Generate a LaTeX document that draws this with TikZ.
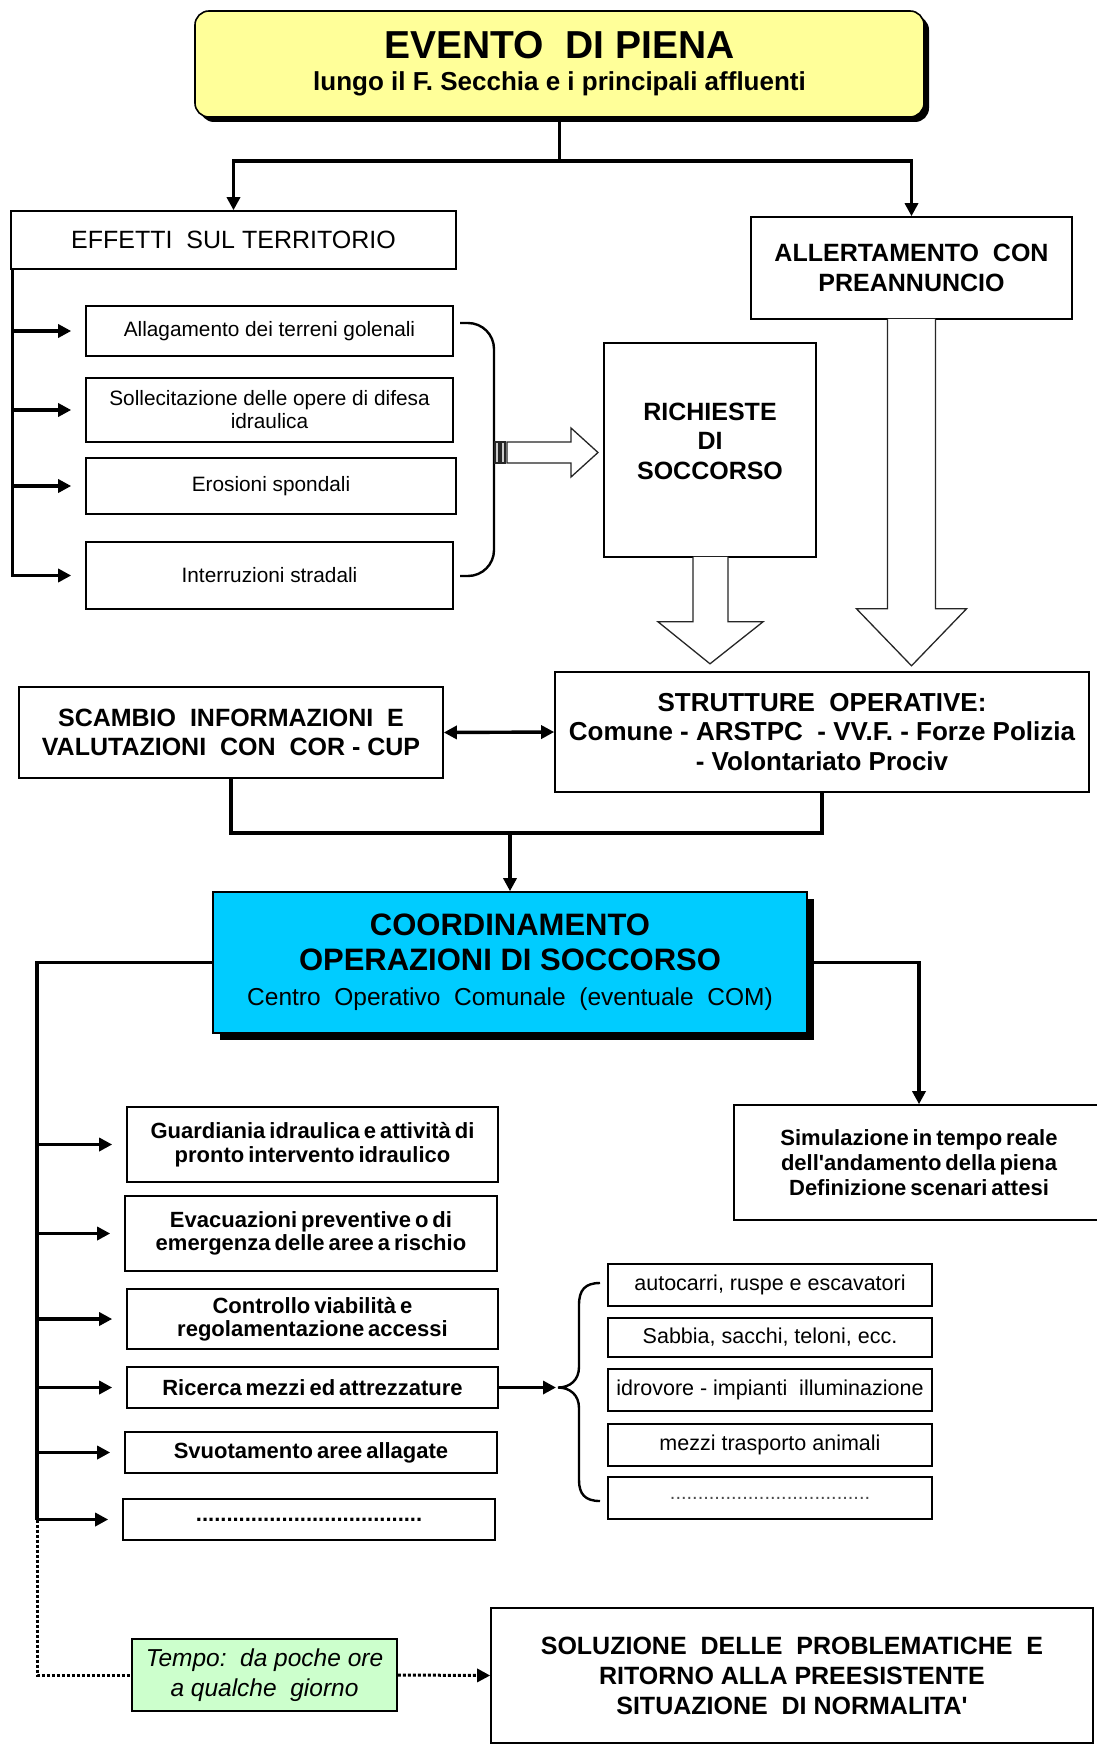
\documentclass[tikz,border=0pt]{standalone}
\usepackage{fontspec}
\setmainfont{Liberation Sans}
\usetikzlibrary{arrows.meta,shadows}
\definecolor{giallo}{HTML}{FFFF99}
\definecolor{azzurro}{HTML}{00CCFF}
\definecolor{verdino}{HTML}{CCFFCC}
\newcommand\stretto{\spaceskip=0.18em plus 0.05em\relax}
\begin{document}
\begin{tikzpicture}[x=1pt,y=-1pt,
    box/.style={draw, line width=1.6pt, fill=white, align=center, inner sep=0pt},
    conn/.style={line width=3.4pt},
    arr/.style={conn, -{Triangle[length=13pt,width=13pt]}},
    punti/.style={line width=3pt, dash pattern=on 3pt off 2pt},
    vuota/.style={draw=black!85, line width=1.3pt, fill=white, line join=miter},
    titolo/.style={font=\bfseries\fontsize{25}{29.5}\selectfont},
    voce/.style={font=\fontsize{20.8}{23}\selectfont},
    vocebf/.style={font=\bfseries\fontsize{22}{23.5}\selectfont\stretto},
    risorsa/.style={box, font=\fontsize{21.5}{23}\selectfont, minimum width=324, minimum height=42}]
    \fill[white] (0,0) rectangle (1096,1744);
    \useasboundingbox (0,0) rectangle (1096,1744);

    \node[box, rounded corners=14pt, fill=giallo, minimum width=729, minimum height=106,
        font=\bfseries\fontsize{26}{32}\selectfont,
        drop shadow={shadow xshift=5pt, shadow yshift=-5pt, fill=black, opacity=1}] (evento) at (559.5,64)
        {{\fontsize{39}{32}\selectfont EVENTO\ \ DI PIENA}\\lungo il F. Secchia e i principali affluenti};

    \node[box, minimum width=445, minimum height=58, font=\fontsize{25}{29}\selectfont] (effetti) at (233.5,240) {EFFETTI\ \ SUL TERRITORIO};
    \node[box, titolo, minimum width=321, minimum height=102] (allerta) at (911.5,268) {ALLERTAMENTO\ \ CON\\PREANNUNCIO};
    \coordinate (split) at (559.5,161);
    \draw[conn] (evento.south) -- (split);
    \draw[arr] (split) -| (effetti.north);
    \draw[arr] (split) -| (allerta.north);

    \node[box, voce, minimum width=367, minimum height=50] (alla) at (269.5,331) {Allagamento dei terreni golenali};
    \node[box, voce, minimum width=367, minimum height=64] (solle) at (269.5,410) {Sollecitazione delle opere di difesa\\idraulica};
    \node[box, voce, minimum width=370, minimum height=56] (eros) at (271,486) {Erosioni spondali};
    \node[box, voce, minimum width=367, minimum height=67] (interr) at (269.5,575.5) {Interruzioni stradali};
    \coordinate (effline) at ([xshift=2pt]effetti.south west);
    \draw[arr, shorten >=14pt] (effline) |- (interr.west);
    \foreach \n in {alla,solle,eros}
        \draw[arr, shorten >=14pt] (effline |- \n.west) -- (\n.west);
    \draw[line width=2.4pt, rounded corners=26pt] (460,323) -- (494,323) -- (494,576) -- (460,576);

    \node[box, minimum width=212, minimum height=214,
        label={[titolo, align=center, yshift=9pt]center:RICHIESTE\\DI\\SOCCORSO}] (richieste) at (710,450) {};
    \draw[vuota] (507,442) -- (571,442) -- (571,428) -- (598,452.5) -- (571,477) -- (571,463) -- (507,463) -- cycle;
    \draw[vuota, fill=black!20] (495,442) rectangle (499,463);
    \draw[vuota, fill=black!20] (501,442) rectangle (505,463);
    \draw[vuota] ([xshift=-17pt,yshift=1pt]richieste.south) -- ++(0,65) -- ++(-35,0) -- ++(52,42) -- ++(53,-42) -- ++(-35,0) -- ++(0,-65);
    \draw[vuota] ([xshift=-24pt,yshift=1pt]allerta.south) -- ++(0,290) -- ++(-31,0) -- ++(55,57) -- ++(55,-57) -- ++(-31,0) -- ++(0,-290);

    \node[box, font=\bfseries\fontsize{26}{29.5}\selectfont, minimum width=534, minimum height=120] (strutture) at (822,732)
        {STRUTTURE\ \ OPERATIVE:\\Comune - ARSTPC\ \ - VV.F. - Forze Polizia\\- Volontariato Prociv};
    \node[box, titolo, minimum width=424, minimum height=91] (scambio) at (231,732.5)
        {SCAMBIO\ \ INFORMAZIONI\ \ E\\VALUTAZIONI\ \ CON\ \ COR - CUP};
    \draw[conn, {Triangle[length=13pt,width=13pt]}-{Triangle[length=13pt,width=13pt]}] (scambio.east) -- (strutture.west);

    \node[box, fill=azzurro, minimum width=594, minimum height=141,
        font=\bfseries\fontsize{31}{35}\selectfont,
        drop shadow={shadow xshift=7pt, shadow yshift=-7pt, fill=black, opacity=1}] (coord) at (510,962.5)
        {COORDINAMENTO\\OPERAZIONI DI SOCCORSO\\{\mdseries\fontsize{24.5}{35}\selectfont Centro\ \ Operativo\ \ Comunale\ \ (eventuale\ \ COM)}};
    \coordinate (nodo) at (510,833);
    \draw[conn] (scambio.south) |- (nodo) -| (strutture.south);
    \draw[arr] (nodo) -- (coord.north);

    \node[box, font=\bfseries\fontsize{22}{25}\selectfont\stretto, minimum width=370, minimum height=115] (simula) at (919,1162.5)
        {Simulazione in tempo reale\\dell\textquotesingle andamento della piena\\Definizione scenari attesi};
    \draw[arr] (coord.east) -| (simula.north);

    \node[box, vocebf, minimum width=371, minimum height=75] (g1) at (312.5,1144.5) {Guardiania idraulica e attività di\\pronto intervento idraulico};
    \node[box, vocebf, minimum width=372, minimum height=75] (g2) at (311,1233.5) {Evacuazioni preventive o di\\emergenza delle aree a rischio};
    \node[box, vocebf, minimum width=371, minimum height=60] (g3) at (312.5,1319) {Controllo viabilità e\\regolamentazione accessi};
    \node[box, vocebf, minimum width=371, minimum height=41] (g4) at (312.5,1387.5) {Ricerca mezzi ed attrezzature};
    \node[box, vocebf, minimum width=372, minimum height=41] (g5) at (311,1452.5) {Svuotamento aree allagate};
    \node[box, vocebf, minimum width=372, minimum height=41] (g6) at (309,1519.5) {.....................................};
    \coordinate (asse) at (37,960);
    \draw[conn] (coord.west) -| (asse |- g6.west);
    \foreach \n in {g1,g2,g3,g4,g5,g6}
        \draw[arr, shorten >=14pt] (asse |- \n.west) -- (\n.west);

    \node[risorsa] (r1) at (770,1285) {autocarri, ruspe e escavatori};
    \node[risorsa, minimum height=39] (r2) at (770,1337.5) {Sabbia, sacchi, teloni, ecc.};
    \node[risorsa] (r3) at (770,1390) {idrovore - impianti\ \ illuminazione};
    \node[risorsa] (r4) at (770,1445) {mezzi trasporto animali};
    \node[risorsa, font=\fontsize{20}{23}\selectfont, text=black!70] (r5) at (770,1498) {....................................};
    \draw[line width=2.4pt] (600,1283) .. controls (585,1283) and (579,1290) .. (579,1305) -- (579,1367)
        .. controls (579,1380) and (570,1387.5) .. (558,1387.5)
        .. controls (570,1387.5) and (579,1395) .. (579,1408) -- (579,1480)
        .. controls (579,1494) and (585,1501) .. (600,1501);
    \coordinate (graffa) at (556,1387.5);
    \draw[arr] (g4.east) -- (graffa);

    \node[box, fill=verdino, font=\itshape\fontsize{24.5}{30}\selectfont, minimum width=265, minimum height=72] (tempo) at (264.5,1675)
        {Tempo:\ \ da poche ore\\a qualche\ \ giorno};
    \node[box, font=\bfseries\fontsize{25}{30}\selectfont, minimum width=602, minimum height=135] (sol) at (792,1675.5)
        {SOLUZIONE\ \ DELLE\ \ PROBLEMATICHE\ \ E\\RITORNO ALLA PREESISTENTE\\SITUAZIONE\ \ DI NORMALITA\textquotesingle};
    \draw[punti] (asse |- g6.west) |- (tempo.west);
    \draw[punti, -{Triangle[length=13pt,width=13pt]}] (tempo.east) -- (sol.west);
\end{tikzpicture}
\end{document}
